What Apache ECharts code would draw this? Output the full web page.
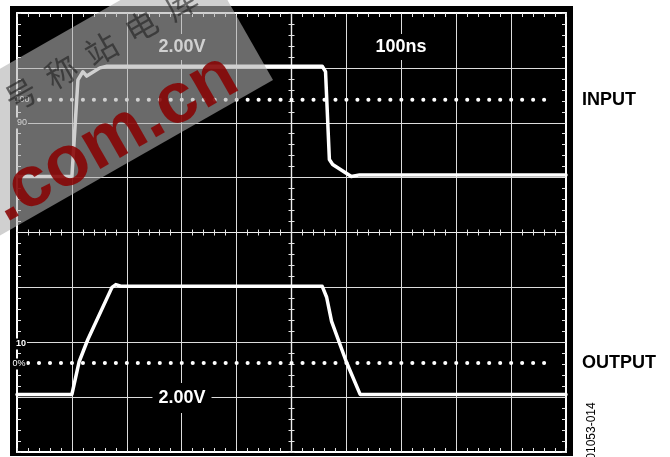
<!DOCTYPE html>
<html><head><meta charset="utf-8">
<script src="https://cdn.jsdelivr.net/npm/echarts@6/dist/echarts.min.js"></script>
<style>html,body{margin:0;padding:0;background:#fff}#c{width:670px;height:457px}</style>
</head><body><div id="c"></div>
<script>
// ---- data (screen divisions: x -5..5 = 10 div of 100ns, y -4..4 = 8 div) ----
const inputX  = [-5, -4.0, -3.89, -3.80, -3.73, -3.49, -3.36, -3.22, 0.56, 0.62, 0.69, 0.75, 1.09, 1.24, 5];
const inputY  = [1.02, 1.02, 2.78, 2.93, 2.85, 3.0, 3.03, 3.03, 3.03, 2.93, 1.33, 1.24, 1.02, 1.05, 1.05];
const outputX = [-5, -4.0, -3.87, -3.71, -3.27, -3.2, -3.11, 0.56, 0.64, 0.73, 1.0, 1.25, 5];
const outputY = [-2.95, -2.95, -2.36, -1.95, -1.0, -0.95, -0.98, -0.98, -1.18, -1.62, -2.36, -2.95, -2.95];
const refLevels = [2.42, -2.38];          // 100% (input) and 0% (output) dotted levels
const refSpan = [-5, 4.62];
const scaleLabels = ['2.00V', '100ns', '2.00V'];
const levelLabels = ['100', '90', '10', '0%'];
const channelLabels = ['INPUT', 'OUTPUT'];
const figureId = '01053-014';
const wmText = '.com.cn';
const wmChars = ['号', '称', '站', '电', '库'];

const chart = echarts.init(document.getElementById('c'), null, {renderer: 'canvas'});
const G = {left: 17, top: 13, width: 549, height: 439, outerBoundsMode: 'none', containLabel: false};
const tickCol = '#e6e6e6';
const FONT = '"Liberation Sans", Arial, sans-serif';

function ax(gi, extra) {
  return Object.assign({
    type: 'value', gridIndex: gi,
    axisLabel: {show: false}, splitLine: {show: false}, axisPointer: {show: false},
    axisTick: {show: true, inside: true, length: 4, lineStyle: {color: tickCol, width: 1}},
    minorTick: {show: true, splitNumber: 5, length: 4, lineStyle: {color: tickCol, width: 1}}
  }, extra);
}
const XR = {min: -5, max: 5, interval: 1};
const YR = {min: -4, max: 4, interval: 1};
const border = {color: '#fff', width: 2};
const center = {color: '#eee', width: 1.2};

const xAxis = [
  ax(0, Object.assign({position: 'bottom', axisLine: {onZero: false, lineStyle: border},
      splitLine: {show: true, lineStyle: {color: '#dcdcdc', width: 1}}}, XR)),
  ax(1, Object.assign({position: 'top', axisLine: {onZero: false, lineStyle: border}}, XR)),
  ax(2, Object.assign({axisLine: {onZero: true, lineStyle: center},
      axisTick: {show: true, inside: true, length: 3, lineStyle: {color: tickCol}},
      minorTick: {show: true, splitNumber: 5, length: 3, lineStyle: {color: tickCol}}}, XR)),
  ax(3, Object.assign({axisLine: {onZero: true, lineStyle: center},
      axisTick: {show: true, inside: false, length: 3, lineStyle: {color: tickCol}},
      minorTick: {show: true, splitNumber: 5, length: 3, lineStyle: {color: tickCol}}}, XR))
];
const yAxis = [
  ax(0, Object.assign({position: 'left', axisLine: {onZero: false, lineStyle: border},
      splitLine: {show: true, lineStyle: {color: '#dcdcdc', width: 1}}}, YR)),
  ax(1, Object.assign({position: 'right', axisLine: {onZero: false, lineStyle: border}}, YR)),
  ax(2, Object.assign({axisLine: {onZero: true, lineStyle: center},
      axisTick: {show: true, inside: true, length: 3, lineStyle: {color: tickCol}},
      minorTick: {show: true, splitNumber: 5, length: 3, lineStyle: {color: tickCol}}}, YR)),
  ax(3, Object.assign({axisLine: {onZero: true, lineStyle: center},
      axisTick: {show: true, inside: false, length: 3, lineStyle: {color: tickCol}},
      minorTick: {show: true, splitNumber: 5, length: 3, lineStyle: {color: tickCol}}}, YR))
];

const zip = (a, b) => a.map((v, i) => [v, b[i]]);
const trace = (name, data) => ({
  type: 'line', name, xAxisIndex: 0, yAxisIndex: 0, data, symbol: 'none', silent: true, z: 5,
  lineStyle: {color: '#fff', width: 3.5, join: 'round', cap: 'round'}
});
const series = [
  trace('input', zip(inputX, inputY)),
  trace('output', zip(outputX, outputY))
].concat(refLevels.map(l => ({
  type: 'line', xAxisIndex: 0, yAxisIndex: 0, symbol: 'none', silent: true, z: 4,
  data: refSpan.map(x => [x, l]),
  lineStyle: {color: '#fff', width: 4, type: [0.1, 10.88], cap: 'round'}
})));

const txt = (x, y, text, font, fill, extra, z) => ({
  type: 'text', x, y, z: z || 50,
  style: Object.assign({text, font, fill, align: 'center', verticalAlign: 'middle'}, extra || {})
});

const graphic = [
  {type: 'rect', z: -10, shape: {x: 10, y: 6, width: 563, height: 450}, style: {fill: '#000'}},
  txt(182, 47, scaleLabels[0], 'bold 18px ' + FONT, '#fff', {backgroundColor: '#000', padding: [4, 5]}),
  txt(401, 47, scaleLabels[1], 'bold 18px ' + FONT, '#fff', {backgroundColor: '#000', padding: [4, 5]}),
  txt(182, 398, scaleLabels[2], 'bold 18px ' + FONT, '#fff', {backgroundColor: '#000', padding: [6, 6]}),
  txt(22, 100, levelLabels[0], '9px ' + FONT, '#fff', {backgroundColor: '#000', padding: [1, 1]}),
  txt(22, 123, levelLabels[1], '9px ' + FONT, '#fff', {backgroundColor: '#000', padding: [1, 1]}),
  txt(21, 344, levelLabels[2], 'bold 9px ' + FONT, '#fff', {backgroundColor: '#000', padding: [1, 1]}),
  txt(19, 364, levelLabels[3], '9px ' + FONT, '#fff', {backgroundColor: '#000', padding: [1, 1]}),
  txt(582, 100, channelLabels[0], 'bold 18px ' + FONT, '#000', {align: 'left'}),
  txt(582, 363, channelLabels[1], 'bold 18px ' + FONT, '#000', {align: 'left'}),
  Object.assign(txt(592, 431, figureId, '12px ' + FONT, '#000'), {rotation: Math.PI / 2}),
  {
    type: 'group', x: 273, y: 80, rotation: 0.518, z: 100,
    children: [
      {type: 'rect', z: 100, shape: {x: -430, y: -145, width: 430, height: 145},
        style: {fill: 'rgba(177,177,177,0.6)'}},
      {type: 'text', z: 101, x: -303, y: 8,
        style: {text: wmText, font: 'bold 72px ' + FONT, fill: 'rgba(135,0,0,0.86)', align: 'left',
          verticalAlign: 'bottom'}}
    ].concat(wmChars.map((c, i) => ({
      type: 'text', z: 101, x: -226 + 46 * i, y: -112,
      style: {text: c, font: '32px "Noto Sans CJK SC"', fill: 'rgba(30,30,30,0.6)',
        align: 'center', verticalAlign: 'middle'}
    })))
  }
];

chart.setOption({
  backgroundColor: '#fff',
  animation: false,
  grid: [G, G, G, G].map(g => Object.assign({}, g)),
  xAxis, yAxis, series, graphic
});
</script></body></html>
